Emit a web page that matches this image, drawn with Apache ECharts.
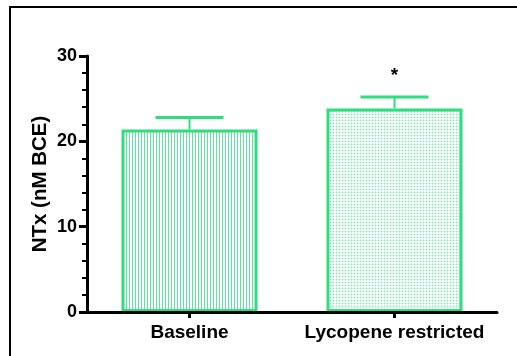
<!DOCTYPE html>
<html>
<head>
<meta charset="utf-8">
<script src="https://cdn.jsdelivr.net/npm/echarts@6/dist/echarts.min.js"></script>
<style>html,body{margin:0;padding:0;background:#fff;}#c{width:517px;height:356px;}</style>
</head>
<body>
<div id="c"></div>
<script>
var categories = ["Baseline", "Lycopene restricted"];
var means = [21.4, 23.85];
var errTops = [22.8, 25.2];
var marks = ["", "*"];
var yTicks = [0, 10, 20, 30];

var GREEN = '#2fdd80';

function makeStripe() {
  var c = document.createElement('canvas'); c.width = 3; c.height = 3;
  var g = c.getContext('2d');
  g.fillStyle = '#fff'; g.fillRect(0, 0, 3, 3);
  g.fillStyle = '#5ce59c'; g.fillRect(0, 0, 1, 3);
  return c;
}
function makeDots() {
  var c = document.createElement('canvas'); c.width = 3; c.height = 3;
  var g = c.getContext('2d');
  g.fillStyle = '#fff'; g.fillRect(0, 0, 3, 3);
  g.fillStyle = '#d6f7e5'; g.fillRect(0, 0, 3, 1); g.fillRect(0, 0, 1, 3);
  g.fillStyle = '#86e8b4'; g.fillRect(0, 0, 1, 1);
  return c;
}
var fills = [{image: makeStripe(), repeat: 'repeat'}, {image: makeDots(), repeat: 'repeat'}];

var chart = echarts.init(document.getElementById('c'));
var font = 'Liberation Sans, Arial, sans-serif';
chart.setOption({
  animation: false,
  grid: {left: 87, right: 20, top: 56, bottom: 44},
  graphic: [{
    type: 'rect', z: 100, silent: true,
    shape: {x: 10, y: 7, width: 700, height: 500},
    style: {fill: 'none', stroke: '#000', lineWidth: 2}
  }],
  xAxis: {
    type: 'category', data: categories, z: 10,
    axisLine: {lineStyle: {color: '#000', width: 3}},
    axisTick: {show: true, alignWithLabel: true, length: 6, lineStyle: {color: '#000', width: 3}},
    axisLabel: {color: '#000', fontFamily: font, fontWeight: 'bold', fontSize: 19, margin: 11, interval: 0}
  },
  yAxis: {
    type: 'value', min: yTicks[0], max: yTicks[yTicks.length - 1], interval: 10, z: 10,
    name: 'NTx (nM BCE)', nameLocation: 'middle', nameGap: 36, nameRotate: 90, nameMoveOverlap: false,
    nameTextStyle: {color: '#000', fontFamily: font, fontWeight: 'bold', fontSize: 20.5},
    axisLine: {show: true, lineStyle: {color: '#000', width: 3}},
    axisTick: {show: true, length: 8, lineStyle: {color: '#000', width: 3}},
    minorTick: {show: true, splitNumber: 5, length: 5, lineStyle: {color: '#000', width: 2}},
    splitLine: {show: false},
    axisLabel: {color: '#000', fontFamily: font, fontWeight: 'bold', fontSize: 18, margin: 10}
  },
  series: [{
    type: 'bar', barWidth: 136,
    data: means.map(function (v, i) {
      return {value: v, itemStyle: {color: fills[i], borderColor: GREEN, borderWidth: 3}};
    })
  }, {
    type: 'custom', z: 5,
    data: means.map(function (v, i) { return [i, v, errTops[i]]; }),
    renderItem: function (params, api) {
      var i = api.value(0);
      var p0 = api.coord([i, api.value(1)]);
      var p1 = api.coord([i, api.value(2)]);
      var half = 34;
      var children = [
        {type: 'line', shape: {x1: p0[0], y1: p0[1], x2: p1[0], y2: p1[1]}, style: {stroke: GREEN, lineWidth: 2}},
        {type: 'line', shape: {x1: p1[0] - half, y1: p1[1], x2: p1[0] + half, y2: p1[1]}, style: {stroke: GREEN, lineWidth: 3}}
      ];
      if (marks[i]) {
        children.push({type: 'text', style: {text: marks[i], x: p1[0], y: p1[1] - 21, align: 'center', verticalAlign: 'middle', fill: '#000', font: 'bold 19px ' + font}});
      }
      return {type: 'group', children: children};
    }
  }]
});
</script>
</body>
</html>
